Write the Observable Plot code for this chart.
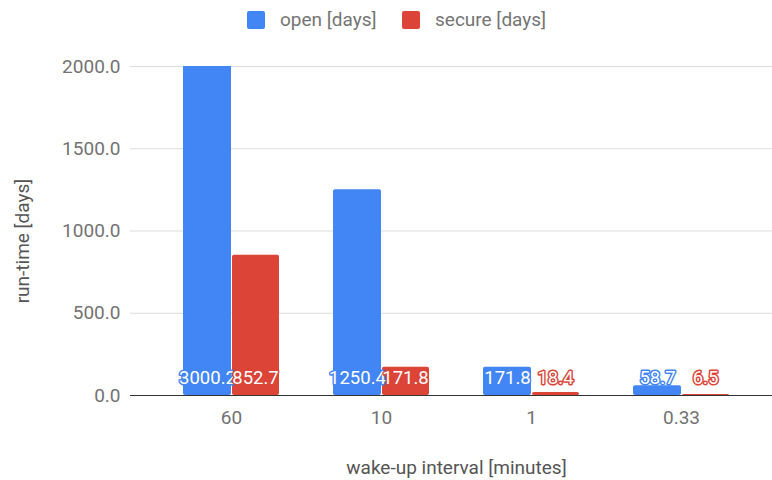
<!DOCTYPE html>
<html>
<head>
<meta charset="utf-8">
<script src="https://cdn.jsdelivr.net/npm/d3@7"></script>
<script src="https://cdn.jsdelivr.net/npm/@observablehq/plot@0.6"></script>
<style>
  body { margin: 0; background: white; font-family: Roboto, sans-serif; }
  #legend { position: relative; height: 40px; width: 772px; font-size: 19px; color: #757575; }
  .sw { position: absolute; top: 11px; width: 18px; height: 18px; border-radius: 2px; }
  .lt { position: absolute; top: 9px; line-height: 22px; white-space: nowrap; }
</style>
</head>
<body>
<div id="legend"></div>
<div id="chart"></div>
<script>
const intervals = ["60", "10", "1", "0.33"];
const openDays = [3000.2, 1250.4, 171.8, 58.7];
const secureDays = [852.7, 171.8, 18.4, 6.5];
const seriesNames = ["open [days]", "secure [days]"];
const seriesColors = ["#4285F4", "#DB4437"];
const yTicks = [0, 500, 1000, 1500, 2000];

const openRows = intervals.map((k, i) => ({interval: k, series: seriesNames[0], value: openDays[i]}));
const secureRows = intervals.map((k, i) => ({interval: k, series: seriesNames[1], value: secureDays[i]}));

// legend
const legend = document.getElementById("legend");
const legendPos = [[247, 280], [402, 435]];
seriesNames.forEach((name, i) => {
  const s = document.createElement("div");
  s.className = "sw";
  s.style.left = legendPos[i][0] + "px";
  s.style.background = seriesColors[i];
  legend.appendChild(s);
  const t = document.createElement("div");
  t.className = "lt";
  t.style.left = legendPos[i][1] + "px";
  t.textContent = name;
  legend.appendChild(t);
});

const fmt = d3.format(".1f");
const labelStyle = (color, dx) => ({
  x: "interval",
  frameAnchor: "bottom",
  text: d => fmt(d.value),
  dx, dy: -12,
  lineAnchor: "bottom",
  fill: "white",
  stroke: color,
  strokeWidth: 3,
  paintOrder: "stroke",
  fontSize: 18.5
});

const chart = Plot.plot({
  width: 772,
  height: 440,
  marginTop: 26,
  marginBottom: 85,
  marginLeft: 156,
  marginRight: 16,
  style: {fontFamily: "Roboto, sans-serif", fontSize: "19px", color: "#737373", background: "white"},
  x: {type: "band", domain: intervals, paddingInner: 0.36, paddingOuter: 0.18, label: null},
  y: {domain: [0, 2000], label: null},
  marks: [
    Plot.ruleY(yTicks.slice(1), {stroke: "#dcdcdc", insetLeft: -26, insetRight: -16}),
    Plot.barY(openRows, {x: "interval", y: "value", fill: seriesColors[0], insetRight: 48, rx: 2, clip: true}),
    Plot.barY(secureRows, {x: "interval", y: "value", fill: seriesColors[1], insetLeft: 49, rx: 2, clip: true}),
    Plot.ruleY([0], {stroke: "#333", insetLeft: -26, insetRight: -16}),
    Plot.axisY(yTicks, {tickSize: 0, tickPadding: 36, tickFormat: fmt, label: null, fontSize: 19}),
    Plot.axisX({tickSize: 0, tickPadding: 15, label: null, fontSize: 19}),
    Plot.text(openRows, labelStyle(seriesColors[0], -24)),
    Plot.text(secureRows, labelStyle(seriesColors[1], 24)),
    Plot.text(["wake-up interval [minutes]"], {frameAnchor: "bottom", dy: 72, lineAnchor: "middle", textAnchor: "middle", fontSize: 19, fill: "#555"}),
    Plot.text(["run-time [days]"], {frameAnchor: "left", dx: -134, dy: 10, rotate: -90, lineAnchor: "middle", textAnchor: "middle", fontSize: 19, fill: "#555"})
  ]
});
document.getElementById("chart").appendChild(chart);
</script>
</body>
</html>
